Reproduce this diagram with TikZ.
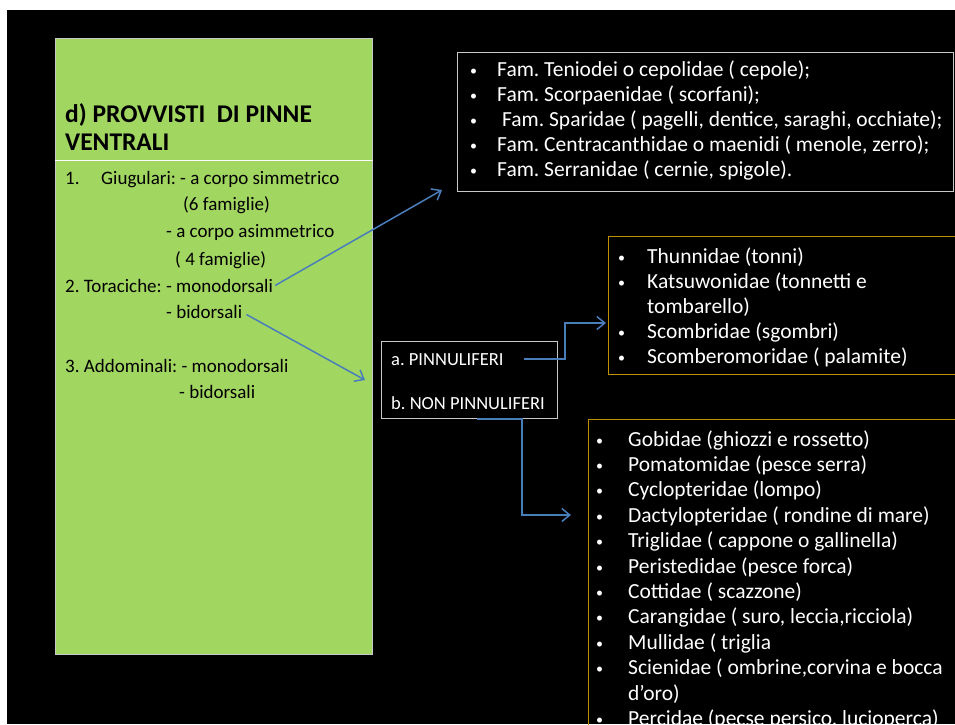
\documentclass[tikz,border=0pt]{standalone}
\usepackage{fontspec}
\setmainfont{Carlito}
\usetikzlibrary{arrows.meta,positioning}

\definecolor{verdebox}{RGB}{161,214,97}
\definecolor{oro}{RGB}{191,144,0}
\definecolor{azzurro}{RGB}{74,126,187}
\definecolor{bordo}{RGB}{200,200,200}

\newlength{\rientro}
\newcommand{\pallino}{\makebox[\rientro][l]{\raisebox{1pt}{\fontsize{14}{14}\selectfont\textbullet}}}
\frenchspacing

\begin{document}
\begin{tikzpicture}[x=1pt,y=-1pt,
  every node/.style={inner sep=0pt,anchor=base west,font=\fontsize{18.5}{25}\selectfont},
  riga/.style={text=black,font=\fontsize{19}{25}\selectfont},
  voce/.style={text=white,align=left,font=\fontsize{21.5}{25}\selectfont},
  cornice/.style={draw=bordo,line width=1pt,minimum width=#1,anchor=north west},
  freccia/.style={draw=azzurro,line width=1.5pt,-{Straight Barb[length=8pt,width=13pt]}}
]
\useasboundingbox (0,0) rectangle (955,724);
\clip (0,0) rectangle (955,724);
\fill[black] (7,10) rectangle (955,724);

% riquadro verde
\node[cornice=317pt,fill=verdebox,minimum height=616pt] (verde) at (55,38) {};
\draw[white,line width=1pt] (verde.west |- 0,160) -- (verde.east |- 0,160);
\node[font=\fontsize{25.5}{28}\selectfont\bfseries,align=left] (titolo) at (65,150) {d) PROVVISTI\ \ DI PINNE\\VENTRALI};
\node[riga] (giug) at (65,184) {\makebox[36pt][l]{1.}Giugulari: - a corpo simmetrico};
\node[riga] (sei) at (183,210) {(6 famiglie)};
\node[riga] (asimm) at (166,237) {- a corpo asimmetrico};
\node[riga] (quattro) at (175,265) {( 4 famiglie)};
\node[riga] (torac) at (65,292) {2. Toraciche: - monodorsali};
\node[riga] (bidors) at (166,318) {- bidorsali};
\node[riga] (addom) at (65,372) {3. Addominali: - monodorsali};
\node[riga] (bidorsb) at (179,398) {- bidorsali};

% famiglie in alto
\node[cornice=496pt,minimum height=139pt] (famiglie) at (457,52) {};
\node[voce] (elenco) at (470,176) {\global\rientro=27pt\relax
  \pallino Fam. Teniodei o cepolidae ( cepole);\\
  \pallino Fam. Scorpaenidae ( scorfani);\\
  \pallino\ Fam. Sparidae ( pagelli, dentice, saraghi, occhiate);\\
  \pallino Fam. Centracanthidae o maenidi ( menole, zerro);\\
  \pallino Fam. Serranidae ( cernie, spigole).};

% pinnuliferi
\node[cornice=176pt,minimum height=77pt] (pinnu) at (381,341) {};
\node[text=white] (pinna) at (391,365) {a. PINNULIFERI};
\node[text=white] (nonpinna) at (391,409) {b. NON PINNULIFERI};

\node[cornice=348pt,draw=oro,minimum height=138pt] (scombri) at (608,236) {};
\node[voce] (elenco2) at (618,363) {\global\rientro=29pt\relax
  \pallino Thunnidae (tonni)\\
  \pallino Katsuwonidae (tonnetti e\\
  \hspace*{\rientro}tombarello)\\
  \pallino Scombridae (sgombri)\\
  \pallino Scomberomoridae ( palamite)};

\node[cornice=368pt,draw=oro,minimum height=330pt] (percoidi) at (588,419) {};
\node[voce,font=\fontsize{21.5}{25.4}\selectfont] (elenco3) at (596,725.4) {\global\rientro=32pt\relax
  \pallino Gobidae (ghiozzi e rossetto)\\
  \pallino Pomatomidae (pesce serra)\\
  \pallino Cyclopteridae (lompo)\\
  \pallino Dactylopteridae ( rondine di mare)\\
  \pallino Triglidae ( cappone o gallinella)\\
  \pallino Peristedidae (pesce forca)\\
  \pallino Cottidae ( scazzone)\\
  \pallino Carangidae ( suro, leccia,ricciola)\\
  \pallino Mullidae ( triglia\\
  \pallino Scienidae ( ombrine,corvina e bocca\\
  \hspace*{\rientro}d’oro)\\
  \pallino Percidae (pecse persico, lucioperca)};

% frecce
\coordinate (gomito1) at (565,323);
\coordinate (gomito2) at (522,515);
\draw[freccia] ([xshift=2pt]torac.east) -- ([xshift=-15pt,yshift=2pt]famiglie.south west);
\draw[freccia] ([xshift=4pt,yshift=-3pt]bidors.east) -- ([xshift=-16pt]pinnu.west);
\draw[freccia,shorten >=2pt] ([xshift=20pt]pinna.east) -| (gomito1) -- (scombri.west |- gomito1);
\draw[freccia,shorten >=17pt] ([xshift=7pt]pinnu.south) -| (gomito2) -- (percoidi.west |- gomito2);
\end{tikzpicture}
\end{document}
